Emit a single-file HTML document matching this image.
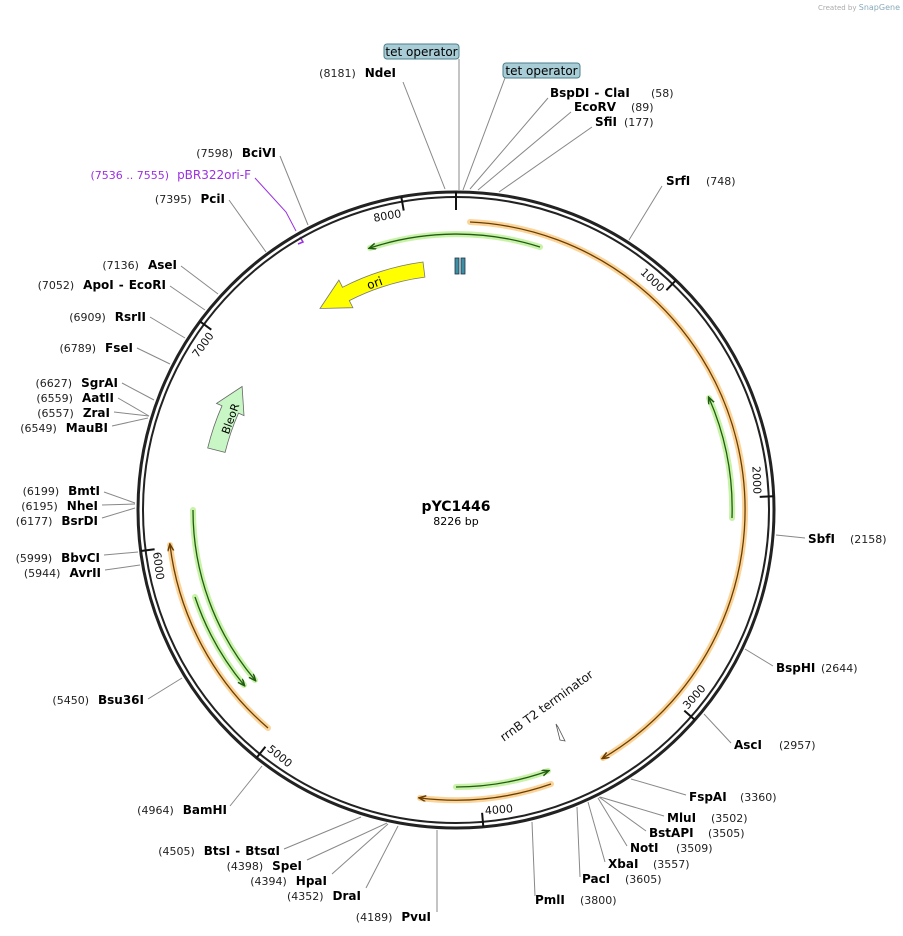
<!DOCTYPE html>
<html><head><meta charset="utf-8"><style>
html,body{margin:0;padding:0;background:#fff;}
svg{display:block;font-family:"DejaVu Sans","Liberation Sans",sans-serif;}
.n{font-size:11px;fill:#222}
.b{font-size:12px;font-weight:bold;fill:#000}
.l{stroke:#888;stroke-width:1;fill:none}
.tk{font-size:11px;fill:#111}
</style></head><body>
<svg width="903" height="936" viewBox="0 0 903 936" xmlns="http://www.w3.org/2000/svg">
<defs>
<marker id="ag" markerWidth="8" markerHeight="8" refX="6" refY="3" orient="auto" markerUnits="userSpaceOnUse"><path d="M0,0 L7,3 L0,6" fill="none" stroke="#1f5c10" stroke-width="1.5"/></marker>
<marker id="ao" markerWidth="8" markerHeight="8" refX="6" refY="3" orient="auto" markerUnits="userSpaceOnUse"><path d="M0,0 L7,3 L0,6" fill="none" stroke="#6b3d00" stroke-width="1.5"/></marker>
</defs>
<text x="900" y="10" text-anchor="end" font-size="7" fill="#aaa">Created by <tspan fill="#8ab" font-size="8">SnapGene</tspan></text>

<g class="l">
<line x1="403" y1="82" x2="445" y2="189"/>
<line x1="459" y1="59" x2="459" y2="190"/>
<line x1="505" y1="78" x2="463" y2="190"/>
<line x1="548" y1="98" x2="470" y2="189"/>
<line x1="571" y1="112" x2="478" y2="190"/>
<line x1="592" y1="127" x2="499" y2="192"/>
<line x1="662" y1="186" x2="629" y2="240"/>
<line x1="805" y1="538" x2="776" y2="535"/>
<line x1="773" y1="666" x2="745" y2="649"/>
<line x1="731" y1="743" x2="704" y2="714"/>
<line x1="686" y1="795" x2="631" y2="779"/>
<line x1="664" y1="816" x2="600" y2="797"/>
<line x1="646" y1="831" x2="599" y2="797"/>
<line x1="627" y1="846" x2="598" y2="798"/>
<line x1="605" y1="862" x2="588" y2="802"/>
<line x1="580" y1="877" x2="577" y2="807"/>
<line x1="535" y1="896" x2="532" y2="822"/>
<line x1="437" y1="912" x2="437" y2="830"/>
<line x1="366" y1="888" x2="398" y2="826"/>
<line x1="332" y1="874" x2="388" y2="824"/>
<line x1="307" y1="860" x2="387" y2="823"/>
<line x1="284" y1="849" x2="361" y2="817"/>
<line x1="230" y1="806" x2="262" y2="766"/>
<line x1="148" y1="699" x2="182" y2="678"/>
<line x1="105" y1="570" x2="140" y2="565"/>
<line x1="104" y1="555" x2="138" y2="552"/>
<line x1="102" y1="518" x2="135" y2="508"/>
<line x1="102" y1="505" x2="135" y2="504"/>
<line x1="104" y1="492" x2="135" y2="503"/>
<line x1="112" y1="426" x2="148" y2="418"/>
<line x1="114" y1="412" x2="149" y2="416"/>
<line x1="118" y1="398" x2="149" y2="416"/>
<line x1="122" y1="383" x2="154" y2="400"/>
<line x1="137" y1="348" x2="170" y2="364"/>
<line x1="150" y1="317" x2="185" y2="338"/>
<line x1="170" y1="286" x2="205" y2="310"/>
<line x1="181" y1="266" x2="218" y2="294"/>
<line x1="229" y1="200" x2="266" y2="252"/>
<line x1="280" y1="156" x2="308" y2="225"/>
</g>
<polyline points="255,178 286,212 296,231" fill="none" stroke="#9b30e0" stroke-width="1"/>
<path d="M300,237 L303,242 L298,244" fill="none" stroke="#9b30e0" stroke-width="1.5"/>

<circle cx="456" cy="510" r="318" fill="none" stroke="#222" stroke-width="3"/>
<circle cx="456" cy="510" r="313" fill="none" stroke="#222" stroke-width="2"/>

<g stroke="#111" stroke-width="2">
<line x1="676.1" y1="280.1" x2="666.4" y2="290.2"/>
<line x1="773.7" y1="496.3" x2="759.7" y2="496.9"/>
<line x1="694.8" y1="719.9" x2="684.3" y2="710.6"/>
<line x1="483.3" y1="826.7" x2="482.1" y2="812.8"/>
<line x1="256.6" y1="757.7" x2="265.4" y2="746.8"/>
<line x1="140.7" y1="551" x2="154.6" y2="549.2"/>
<line x1="200" y1="321.4" x2="211.3" y2="329.7"/>
<line x1="401.3" y1="196.8" x2="403.7" y2="210.6"/>
<line x1="456" y1="192" x2="456" y2="210"/>
</g>
<g class="tk">
<text transform="translate(662.2,294.5) rotate(43.76)" text-anchor="end" dx="-3">1000</text>
<text transform="translate(753.7,497.2) rotate(87.53)" text-anchor="end" dx="-3">2000</text>
<text transform="translate(685.8,712) rotate(-48.71)" text-anchor="start" dx="3">3000</text>
<text transform="translate(482.3,814.8) rotate(-4.94)" text-anchor="start" dx="3">4000</text>
<text transform="translate(264.2,748.4) rotate(38.82)" text-anchor="start" dx="3">5000</text>
<text transform="translate(152.6,549.5) rotate(82.58)" text-anchor="start" dx="3">6000</text>
<text transform="translate(216.1,333.3) rotate(-53.65)" text-anchor="end" dx="-3">7000</text>
<text transform="translate(404.7,216.5) rotate(-9.89)" text-anchor="end" dx="-3">8000</text>
</g>

<g fill="none" stroke="#fbd49a" stroke-width="6" stroke-linecap="round">
<path d="M470,222 A288,288 0 0 1 603,758"/>
<path d="M551,784 A290,290 0 0 1 420,798"/>
<path d="M268,728 A288,288 0 0 1 170,545"/>
</g>
<g fill="none" stroke="#6b3d00" stroke-width="1.3">
<path d="M470,222 A288,288 0 0 1 603,758" marker-end="url(#ao)"/>
<path d="M551,784 A290,290 0 0 1 420,798" marker-end="url(#ao)"/>
<path d="M268,728 A288,288 0 0 1 170,545" marker-end="url(#ao)"/>
</g>
<g fill="none" stroke="#c8f2a8" stroke-width="6" stroke-linecap="round">
<path d="M540,247 A276,276 0 0 0 370,248"/>
<path d="M732,518 A277,277 0 0 0 709,398"/>
<path d="M456,787 A277,277 0 0 0 548,771"/>
<path d="M193,510 A263,263 0 0 0 255,680"/>
<path d="M195,597 A275,275 0 0 0 244,685"/>
</g>
<g fill="none" stroke="#1f5c10" stroke-width="1.3">
<path d="M540,247 A276,276 0 0 0 370,248" marker-end="url(#ag)"/>
<path d="M732,518 A277,277 0 0 0 709,398" marker-end="url(#ag)"/>
<path d="M456,787 A277,277 0 0 0 548,771" marker-end="url(#ag)"/>
<path d="M193,510 A263,263 0 0 0 255,680" marker-end="url(#ag)"/>
<path d="M195,597 A275,275 0 0 0 244,685" marker-end="url(#ag)"/>
</g>

<path d="M423,262 A250,250 0 0 0 342.5,287.3 L338.9,280.1 L320,308.5 L352.9,307.7 L349.3,300.6 A235,235 0 0 1 424.9,277.1 Z" fill="#ffff00" stroke="#777" stroke-width="0.8"/>
<text transform="translate(376,287) rotate(-20)" text-anchor="middle" font-size="12" fill="#000">ori</text>
<path d="M207.7,448 A256,256 0 0 1 222,405.8 L216.5,403.4 L242.1,386.5 L244,415.6 L238.5,413.1 A238,238 0 0 0 225.1,452.4 Z" fill="#c8f7c5" stroke="#666" stroke-width="0.8"/>
<text transform="translate(234,420) rotate(-70)" text-anchor="middle" font-size="11" fill="#000">BleoR</text>

<rect x="455" y="258" width="4" height="16" fill="#3d8fa3" stroke="#234" stroke-width="0.8"/>
<rect x="461" y="258" width="4" height="16" fill="#3d8fa3" stroke="#234" stroke-width="0.8"/>

<path d="M556,724 L560,740 L565,741 L558,727 Z" fill="#fff" stroke="#555" stroke-width="0.8"/>
<text transform="translate(549,709) rotate(-36)" text-anchor="middle" font-size="12" fill="#111">rrnB T2 terminator</text>

<rect x="384" y="44" width="75" height="15" rx="3" fill="#a9cdd6" stroke="#4a7f8c"/>
<text x="421.5" y="56" text-anchor="middle" font-size="12" fill="#000">tet operator</text>
<rect x="503" y="63" width="77" height="15" rx="3" fill="#a9cdd6" stroke="#4a7f8c"/>
<text x="541.5" y="75" text-anchor="middle" font-size="12" fill="#000">tet operator</text>

<text x="456" y="511" text-anchor="middle" font-size="14" font-weight="bold">pYC1446</text>
<text x="456" y="525" text-anchor="middle" font-size="11">8226 bp</text>

<g text-anchor="end">
<text x="396" y="77"><tspan class="n">(8181)</tspan><tspan class="b" dx="9">NdeI</tspan></text>
<text x="276" y="157"><tspan class="n">(7598)</tspan><tspan class="b" dx="9">BciVI</tspan></text>
<text x="251" y="179" font-size="12" fill="#9b30e0"><tspan font-size="11">(7536 .. 7555)</tspan><tspan dx="8">pBR322ori-F</tspan></text>
<text x="225" y="203"><tspan class="n">(7395)</tspan><tspan class="b" dx="9">PciI</tspan></text>
<text x="177" y="269"><tspan class="n">(7136)</tspan><tspan class="b" dx="9">AseI</tspan></text>
<text x="166" y="289"><tspan class="n">(7052)</tspan><tspan class="b" dx="9">ApoI</tspan><tspan class="b" dx="5">-</tspan><tspan class="b" dx="5">EcoRI</tspan></text>
<text x="146" y="321"><tspan class="n">(6909)</tspan><tspan class="b" dx="9">RsrII</tspan></text>
<text x="133" y="352"><tspan class="n">(6789)</tspan><tspan class="b" dx="9">FseI</tspan></text>
<text x="118" y="387"><tspan class="n">(6627)</tspan><tspan class="b" dx="9">SgrAI</tspan></text>
<text x="114" y="402"><tspan class="n">(6559)</tspan><tspan class="b" dx="9">AatII</tspan></text>
<text x="110" y="417"><tspan class="n">(6557)</tspan><tspan class="b" dx="9">ZraI</tspan></text>
<text x="108" y="432"><tspan class="n">(6549)</tspan><tspan class="b" dx="9">MauBI</tspan></text>
<text x="100" y="495"><tspan class="n">(6199)</tspan><tspan class="b" dx="9">BmtI</tspan></text>
<text x="98" y="510"><tspan class="n">(6195)</tspan><tspan class="b" dx="9">NheI</tspan></text>
<text x="98" y="525"><tspan class="n">(6177)</tspan><tspan class="b" dx="9">BsrDI</tspan></text>
<text x="100" y="562"><tspan class="n">(5999)</tspan><tspan class="b" dx="9">BbvCI</tspan></text>
<text x="101" y="577"><tspan class="n">(5944)</tspan><tspan class="b" dx="9">AvrII</tspan></text>
<text x="144" y="704"><tspan class="n">(5450)</tspan><tspan class="b" dx="9">Bsu36I</tspan></text>
<text x="227" y="814"><tspan class="n">(4964)</tspan><tspan class="b" dx="9">BamHI</tspan></text>
<text x="280" y="855"><tspan class="n">(4505)</tspan><tspan class="b" dx="9">BtsI</tspan><tspan class="b" dx="5">-</tspan><tspan class="b" dx="5">BtsαI</tspan></text>
<text x="302" y="870"><tspan class="n">(4398)</tspan><tspan class="b" dx="9">SpeI</tspan></text>
<text x="327" y="885"><tspan class="n">(4394)</tspan><tspan class="b" dx="9">HpaI</tspan></text>
<text x="361" y="900"><tspan class="n">(4352)</tspan><tspan class="b" dx="9">DraI</tspan></text>
<text x="431" y="921"><tspan class="n">(4189)</tspan><tspan class="b" dx="9">PvuI</tspan></text>
</g>
<g>
<text x="550" y="97"><tspan class="b">BspDI</tspan><tspan class="b" dx="5">-</tspan><tspan class="b" dx="5">ClaI</tspan><tspan class="n" x="651">(58)</tspan></text>
<text x="574" y="111"><tspan class="b">EcoRV</tspan><tspan class="n" x="631">(89)</tspan></text>
<text x="595" y="126"><tspan class="b">SfiI</tspan><tspan class="n" x="624">(177)</tspan></text>
<text x="666" y="185"><tspan class="b">SrfI</tspan><tspan class="n" x="706">(748)</tspan></text>
<text x="808" y="543"><tspan class="b">SbfI</tspan><tspan class="n" x="850">(2158)</tspan></text>
<text x="776" y="672"><tspan class="b">BspHI</tspan><tspan class="n" x="821">(2644)</tspan></text>
<text x="734" y="749"><tspan class="b">AscI</tspan><tspan class="n" x="779">(2957)</tspan></text>
<text x="689" y="801"><tspan class="b">FspAI</tspan><tspan class="n" x="740">(3360)</tspan></text>
<text x="667" y="822"><tspan class="b">MluI</tspan><tspan class="n" x="711">(3502)</tspan></text>
<text x="649" y="837"><tspan class="b">BstAPI</tspan><tspan class="n" x="708">(3505)</tspan></text>
<text x="630" y="852"><tspan class="b">NotI</tspan><tspan class="n" x="676">(3509)</tspan></text>
<text x="608" y="868"><tspan class="b">XbaI</tspan><tspan class="n" x="653">(3557)</tspan></text>
<text x="582" y="883"><tspan class="b">PacI</tspan><tspan class="n" x="625">(3605)</tspan></text>
<text x="535" y="904"><tspan class="b">PmlI</tspan><tspan class="n" x="580">(3800)</tspan></text>
</g>
</svg>
</body></html>
